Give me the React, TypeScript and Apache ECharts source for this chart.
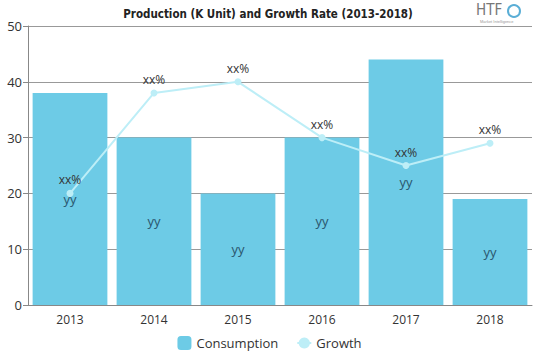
import React, { useEffect, useRef } from "react";
import * as echarts from "echarts";

const categories = ["2013", "2014", "2015", "2016", "2017", "2018"];
const consumption = [38, 30, 20, 30, 44, 19];
const growth = [20, 38, 40, 30, 25, 29];
const barLabels = ["yy", "yy", "yy", "yy", "yy", "yy"];
const lineLabels = ["xx%", "xx%", "xx%", "xx%", "xx%", "xx%"];

export default function App() {
  const ref = useRef<HTMLDivElement>(null);
  useEffect(() => {
    const chart = echarts.init(ref.current!, null, { renderer: "svg" });
    chart.setOption({
      animation: false,
      title: {
        text: "Production (K Unit) and Growth Rate (2013-2018)",
        left: 263,
        textAlign: "center",
        top: 3,
        textStyle: {
          fontFamily: "DejaVu Sans Condensed",
          fontWeight: "bold",
          fontSize: 11.5,
          color: "#222",
        },
      },
      graphic: [
        {
          type: "text",
          left: 476,
          top: 2,
          style: { text: "HTF", fill: "#777", font: "15px 'DejaVu Sans Condensed'" },
        },
        {
          type: "circle",
          shape: { cx: 514, cy: 11, r: 6 },
          style: { fill: "none", stroke: "#5aaed6", lineWidth: 2 },
        },
        {
          type: "text",
          left: 480,
          top: 19,
          style: { text: "Market Intelligence", fill: "#999", font: "4px sans-serif" },
        },
      ],
      legend: {
        bottom: 4,
        left: "center",
        itemWidth: 14,
        itemHeight: 14,
        itemGap: 18,
        textStyle: { fontFamily: "Open Sans", fontSize: 13, color: "#333" },
        data: ["Consumption", "Growth"],
      },
      grid: { left: 28, right: 7, top: 26, bottom: 54 },
      xAxis: {
        type: "category",
        data: categories,
        axisTick: { show: false },
        axisLine: { lineStyle: { color: "#888" } },
        axisLabel: { color: "#333", fontSize: 12, fontFamily: "Open Sans", margin: 8 },
      },
      yAxis: {
        type: "value",
        min: 0,
        max: 50,
        interval: 10,
        axisLine: { show: true, lineStyle: { color: "#888" } },
        axisTick: { show: true, length: 5, lineStyle: { color: "#888" } },
        splitLine: { lineStyle: { color: "#999" } },
        axisLabel: { color: "#333", fontSize: 13, fontFamily: "Open Sans", margin: 6 },
      },
      series: [
        {
          name: "Consumption",
          type: "bar",
          data: consumption,
          barCategoryGap: "11%",
          itemStyle: { color: "#6dcbe6" },
          label: {
            show: true,
            position: "inside",
            formatter: (p: any) => barLabels[p.dataIndex],
            color: "#2a566e",
            fontSize: 13,
            fontFamily: "Open Sans",
          },
        },
        {
          name: "Growth",
          type: "line",
          data: growth,
          symbol: "circle",
          symbolSize: 7,
          lineStyle: { color: "#bdeef7", width: 2 },
          itemStyle: { color: "#bdeef7" },
          label: {
            show: true,
            position: "top",
            distance: 4,
            formatter: (p: any) => lineLabels[p.dataIndex],
            color: "#333",
            fontSize: 12,
            fontFamily: "Open Sans",
          },
        },
      ],
    });
    return () => chart.dispose();
  }, []);
  return <div ref={ref} style={{ width: 539, height: 359, position: "absolute", left: 0, top: 0 }} />;
}
